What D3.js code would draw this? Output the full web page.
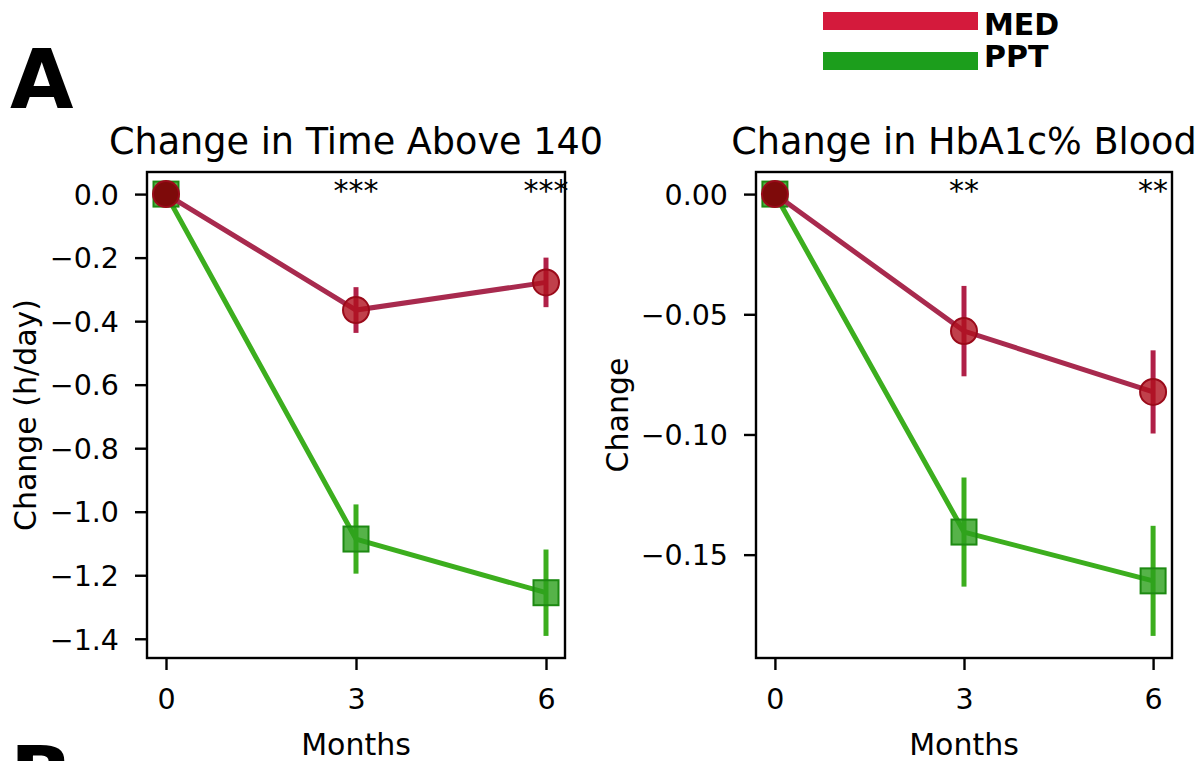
<!DOCTYPE html>
<html>
<head>
<meta charset="utf-8">
<script src="https://cdn.jsdelivr.net/npm/d3@7"></script>
<style>
  body { margin: 0; background: #fff; }
  svg { font-family: "DejaVu Sans", sans-serif; }
</style>
</head>
<body>
<svg id="fig" width="1203" height="761"></svg>
<script>
// months on the x axis
const months = [0, 3, 6];
const monthTicks = [0, 3, 6];

// time above 140 (h/day), mean and error
const medTar = [0, -0.365, -0.278];
const medTarErr = [0, 0.072, 0.078];
const pptTar = [0, -1.086, -1.255];
const pptTarErr = [0, 0.109, 0.136];
const tarTicks = [0, -0.2, -0.4, -0.6, -0.8, -1.0, -1.2, -1.4];
const tarStars = ["", "***", "***"];

// HbA1c % change, mean and error
const medA1c = [0, -0.057, -0.0823];
const medA1cErr = [0, 0.0188, 0.0173];
const pptA1c = [0, -0.1406, -0.1609];
const pptA1cErr = [0, 0.0227, 0.0229];
const a1cTicks = [0, -0.05, -0.10, -0.15];
const a1cStars = ["", "**", "**"];

const groups = ["MED", "PPT"];
const legendColors = ["#d41a3c", "#1c9e1c"];

const svg = d3.select("#fig");
const tickLen = 12, tickPad = 16;

//draw one panel
function drawPanel(opt){
    const g = svg.append("g");
    const x = d3.scaleLinear().domain([-0.3, 6.3]).range([opt.left, opt.right]);

    //autoscale with 5% margin like the original
    let lo = 0, hi = 0;
    for(const s of opt.series){
        s.vals.forEach((v, i) => {
            lo = Math.min(lo, v - s.err[i]);
            hi = Math.max(hi, v + s.err[i]);
        });
    }
    const pad = (hi - lo) * 0.05;
    const y = d3.scaleLinear().domain([lo - pad, hi + pad]).range([opt.bottom, opt.top]);

    //axes
    const yAxis = d3.axisLeft(y).tickValues(opt.yTicks).tickFormat(d3.format(opt.fmt))
        .tickSizeInner(tickLen).tickSizeOuter(0).tickPadding(tickPad);
    const xAxis = d3.axisBottom(x).tickValues(monthTicks).tickFormat(d3.format("d"))
        .tickSizeInner(tickLen).tickSizeOuter(0).tickPadding(tickPad);

    const ya = g.append("g").attr("transform", "translate(" + opt.left + ",0)").call(yAxis);
    const xa = g.append("g").attr("transform", "translate(0," + opt.bottom + ")").call(xAxis);
    for(const a of [ya, xa]){
        a.select(".domain").remove();
        a.selectAll(".tick line").attr("stroke", "#000").attr("stroke-width", 2.4);
        a.selectAll(".tick text").attr("fill", "#000").style("font-size", "28.5px")
            .style("font-family", "DejaVu Sans");
    }
    xa.selectAll(".tick text").attr("dy", null).attr("y", 709 - opt.bottom);
    ya.selectAll(".tick text").attr("dy", "0.36em");

    //series: lines, error bars, markers
    for(const s of opt.series){
        const pts = months.map((m, i) => ({m: m, v: s.vals[i], e: s.err[i]}));
        g.append("path")
            .datum(pts)
            .attr("fill", "none")
            .attr("stroke", s.line)
            .attr("stroke-width", 5)
            .attr("d", d3.line().x(d => x(d.m)).y(d => y(d.v)));
        g.selectAll(null)
            .data(pts.filter(d => d.e > 0))
            .enter()
            .append("line")
            .attr("x1", d => x(d.m)).attr("x2", d => x(d.m))
            .attr("y1", d => y(d.v - d.e)).attr("y2", d => y(d.v + d.e))
            .attr("stroke", s.bar)
            .attr("stroke-width", 5);
        const mk = g.selectAll(null).data(pts).enter();
        if(s.shape == "square"){
            mk.append("rect")
                .attr("x", d => x(d.m) - 12.5).attr("y", d => y(d.v) - 12.5)
                .attr("width", 25).attr("height", 25)
                .attr("fill", s.fill).attr("fill-opacity", 0.8)
                .attr("stroke", s.edge).attr("stroke-width", 2);
        }
        else {
            mk.append("circle")
                .attr("cx", d => x(d.m)).attr("cy", d => y(d.v))
                .attr("r", 13)
                .attr("fill", (d, i) => i == 0 ? s.first : s.fill)
                .attr("fill-opacity", (d, i) => i == 0 ? 1 : 0.8)
                .attr("stroke", s.edge).attr("stroke-width", 2);
        }
    }

    //significance stars
    g.selectAll(null)
        .data(months.map((m, i) => ({m: m, t: opt.stars[i]})))
        .enter()
        .append("text")
        .attr("x", d => x(d.m))
        .attr("y", y(0) + 7)
        .attr("text-anchor", "middle")
        .style("font-size", "30px")
        .text(d => d.t);

    //frame
    g.append("rect")
        .attr("x", opt.left).attr("y", opt.top)
        .attr("width", opt.right - opt.left).attr("height", opt.bottom - opt.top)
        .attr("fill", "none").attr("stroke", "#000").attr("stroke-width", 2.4);

    //title and labels
    const cx = (opt.left + opt.right) / 2;
    g.append("text").attr("x", cx).attr("y", 154).attr("text-anchor", "middle")
        .style("font-size", "36.6px").text(opt.title);
    g.append("text").attr("x", cx).attr("y", 755).attr("text-anchor", "middle")
        .style("font-size", "30px").text("Months");
    g.append("text")
        .attr("transform", "translate(" + opt.ylabX + "," + ((opt.top + opt.bottom) / 2) + ")rotate(-90)")
        .attr("text-anchor", "middle")
        .style("font-size", "30px").text(opt.ylab);
}

const medStyle = {line: "#a82a4e", bar: "#b02048", fill: "#b0101e", edge: "#9a0a1a", first: "#7e0a0a", shape: "circle"};
const pptStyle = {line: "#3cae1e", bar: "#3cae1e", fill: "#2ca01c", edge: "#1d8a12", shape: "square"};

drawPanel({
    left: 147, right: 565, top: 172, bottom: 658,
    yTicks: tarTicks, fmt: ".1f", stars: tarStars,
    title: "Change in Time Above 140", ylab: "Change (h/day)", ylabX: 36,
    series: [
        Object.assign({vals: pptTar, err: pptTarErr}, pptStyle),
        Object.assign({vals: medTar, err: medTarErr}, medStyle)
    ]
});

drawPanel({
    left: 756, right: 1172, top: 172, bottom: 658,
    yTicks: a1cTicks, fmt: ".2f", stars: a1cStars,
    title: "Change in HbA1c% Blood", ylab: "Change", ylabX: 628,
    series: [
        Object.assign({vals: pptA1c, err: pptA1cErr}, pptStyle),
        Object.assign({vals: medA1c, err: medA1cErr}, medStyle)
    ]
});

//legend
const leg = svg.append("g");
groups.forEach((name, i) => {
    leg.append("rect")
        .attr("x", 823).attr("y", 12 + i * 40)
        .attr("width", 155).attr("height", 18)
        .attr("fill", legendColors[i]);
    leg.append("text")
        .attr("x", 984).attr("y", 35 + i * 32)
        .style("font-size", "30px").style("font-weight", "bold")
        .text(name);
});

//panel letters
svg.append("text").attr("x", 10).attr("y", 108)
    .style("font-size", "82px").style("font-weight", "bold").text("A");
svg.append("text").attr("x", 10).attr("y", 805)
    .style("font-size", "82px").style("font-weight", "bold").text("B");
</script>
</body>
</html>
